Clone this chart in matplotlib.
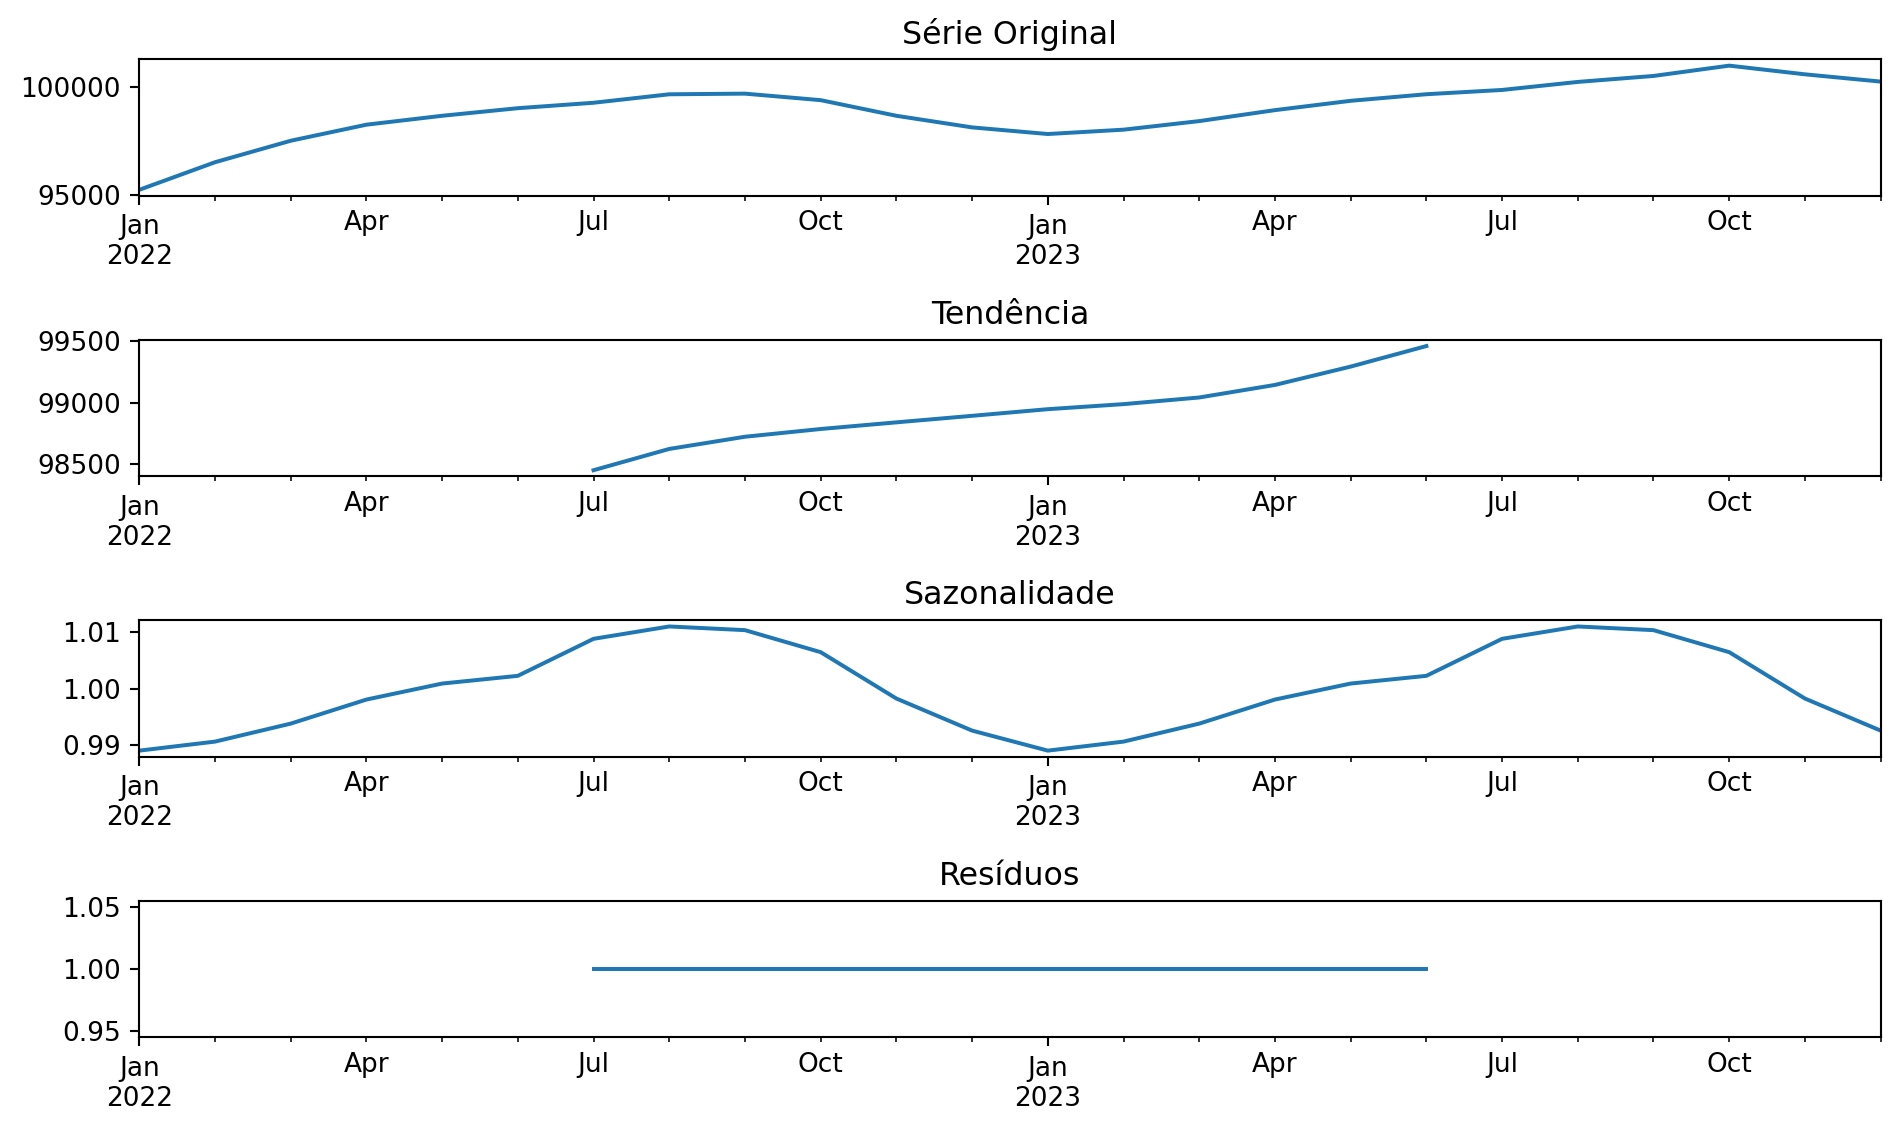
import matplotlib
matplotlib.use("Agg")
import matplotlib.pyplot as plt
import numpy as np
import pandas as pd

# monthly index Jan 2022 .. Dec 2023
datas = pd.date_range("2022-01-01", periods=24, freq="MS")

# valores
original = [95260, 96530, 97520, 98260, 98670, 99020, 99270, 99660,
            99690, 99390, 98670, 98135, 97830, 98030, 98425, 98930,
            99360, 99663, 99860, 100230, 100505, 100980, 100580, 100245]

tendencia = [np.nan] * 6 + [98451, 98624, 98723, 98786, 98840, 98893,
                            98947, 98988, 99042, 99144, 99293, 99460] + [np.nan] * 6

sazonal_mes = [0.98906, 0.99065, 0.99382, 0.99806, 1.00088, 1.00224,
               1.00876, 1.01094, 1.01029, 1.00641, 0.99824, 0.99259]
sazonalidade = sazonal_mes * 2

residuos = [np.nan] * 6 + [1.0] * 12 + [np.nan] * 6

titulos = ["Série Original", "Tendência", "Sazonalidade", "Resíduos"]
series = [original, tendencia, sazonalidade, residuos]

fig, axes = plt.subplots(4, 1, figsize=(10, 1132 / 190), dpi=190)
fig.subplots_adjust(left=0.0733, right=0.9898, top=0.9475, bottom=0.0837, hspace=1.053)

for ax, titulo, valores in zip(axes, titulos, series):
    pd.Series(valores, index=datas).plot(ax=ax, color="#1f77b4", linewidth=1.5)
    ax.set_title(titulo, fontsize=12)
    ax.set_xlabel("")
    ax.set_xlim(datas[0], datas[-1])

fig.savefig("out.png", dpi=190)
plt.close(fig)
